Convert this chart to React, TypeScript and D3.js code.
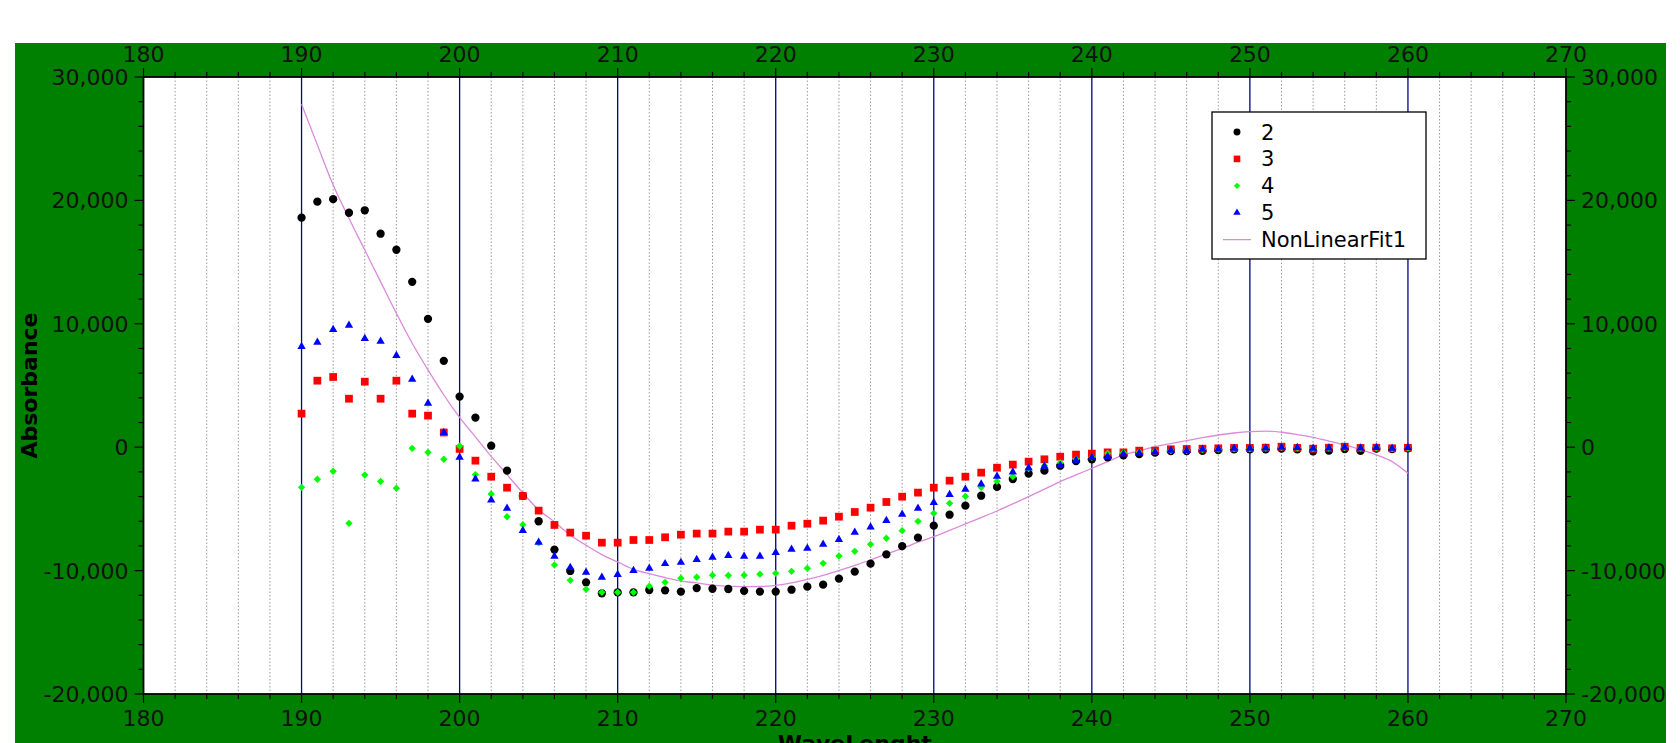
import React from "react";
import * as d3 from "d3";

const wavelengths = [
  190, 191, 192, 193, 194, 195, 196, 197, 198, 199,
  200, 201, 202, 203, 204, 205, 206, 207, 208, 209,
  210, 211, 212, 213, 214, 215, 216, 217, 218, 219,
  220, 221, 222, 223, 224, 225, 226, 227, 228, 229,
  230, 231, 232, 233, 234, 235, 236, 237, 238, 239,
  240, 241, 242, 243, 244, 245, 246, 247, 248, 249,
  250, 251, 252, 253, 254, 255, 256, 257, 258, 259, 260,
];

const series2 = [
  18600, 19900, 20100, 19000, 19200, 17300, 16000, 13400, 10400, 7000,
  4100, 2400, 120, -1900, -3950, -6000, -8300, -10030, -10950, -11840,
  -11770, -11760, -11580, -11600, -11700, -11420, -11470, -11490, -11640, -11700,
  -11700, -11550, -11300, -11140, -10650, -10080, -9440, -8680, -8020, -7330,
  -6360, -5470, -4740, -3930, -3220, -2580, -2140, -1900, -1500, -1120,
  -980, -820, -660, -550, -440, -310, -310, -300, -230, -170,
  -170, -170, -120, -170, -330, -280, -150, -300, -120, -150, -100,
];

const series3 = [
  2720, 5390, 5690, 3930, 5310, 3930, 5390, 2720, 2560, 1190,
  -140, -1090, -2390, -3280, -3950, -5140, -6300, -6920, -7170, -7735,
  -7735, -7520, -7520, -7300, -7090, -7000, -7000, -6840, -6840, -6680,
  -6680, -6360, -6200, -5950, -5630, -5250, -4900, -4440, -4010, -3680,
  -3280, -2710, -2390, -2060, -1660, -1410, -1170, -980, -770, -600,
  -520, -420, -420, -280, -280, -170, -145, -120, -90, -60,
  -60, -40, 40, -60, -120, -40, 40, -60, -40, -90, -50,
];

const series4 = [
  -3250, -2600, -1950, -6170, -2250, -2770, -3330, -90, -415, -980,
  100, -2220, -3790, -5640, -6280, -7750, -9540, -10790, -11520, -11760,
  -11760, -11760, -11260, -10950, -10610, -10530, -10370, -10400, -10370, -10290,
  -10220, -10060, -9815, -9410, -8815, -8440, -7870, -7380, -6763, -6006,
  -5358, -4548, -3980, -3250, -2765, -2390, -1740, -1495, -1250, -980,
  -820, -500, -440, -380, -330, -270, -270, -190, -160, -110,
  -110, -80, -30, -60, -110, -80, -30, -80, -60, -110, -60,
];

const series5 = [
  8150, 8500, 9530, 9880, 8800, 8580, 7420, 5500, 3560, 1190,
  -820, -2590, -4280, -4950, -6760, -7710, -8840, -9760, -10140, -10545,
  -10330, -10005, -9816, -9440, -9340, -9100, -8923, -8788, -8842, -8842,
  -8545, -8275, -8194, -7870, -7492, -6898, -6466, -5952, -5439, -4953,
  -4494, -3845, -3413, -2981, -2360, -2009, -1684, -1549, -1468, -1063,
  -847, -766, -550, -469, -388, -253, -280, -172, -145, -91,
  -91, -64, -10, -37, -91, -64, -10, -64, -37, -91, -40,
];

const fitValues = [
  27800, 24500, 21250, 18550, 15980, 13420, 10850, 8420, 6260, 4230,
  2420, 830, -740, -2220, -3700, -5070, -6050, -7110, -7950, -8700,
  -9300, -9900, -10250, -10560, -10850, -11000, -11180, -11260, -11300, -11290,
  -11200, -11000, -10710, -10380, -10000, -9580, -9140, -8650, -8200, -7700,
  -7250, -6740, -6220, -5700, -5170, -4600, -4010, -3400, -2790, -2250,
  -1710, -1170, -630, -290, 40, 290, 530, 770, 990, 1150,
  1260, 1310, 1210, 1020, 800, 500, 180, -200, -630, -1170, -2115,
];

const xTickLabels = [180, 190, 200, 210, 220, 230, 240, 250, 260, 270];
const yTickValues = [-20000, -10000, 0, 10000, 20000, 30000];
const legendLabels = ["2", "3", "4", "5", "NonLinearFit1"];

const FONT = "'DejaVu Sans', sans-serif";
const TEXT = "#111";

export default function App() {
  const W = 1680;
  const H = 743;
  const left = 143.5;
  const right = 1566;
  const top = 77;
  const bottom = 694;

  const x = d3.scaleLinear().domain([180, 270]).range([left, right]);
  const y = d3.scaleLinear().domain([-20000, 30000]).range([bottom, top]);

  const fmt = d3
    .formatLocale({ decimal: ".", thousands: ",", grouping: [3], currency: ["$", ""], minus: "-" })
    .format(",");

  const xMinor = d3.range(180, 271, 2).filter((v) => v % 10 !== 0);
  const yMinor = d3.range(-20000, 30001, 2000).filter((v) => v % 10000 !== 0);
  const majorGrid = xTickLabels.filter((v) => v > 180 && v < 270);

  const circle = d3.symbol().type(d3.symbolCircle).size(54)()!;
  const square = d3.symbol().type(d3.symbolSquare).size(60)()!;
  const diamond = d3.symbol().type(d3.symbolSquare).size(27)()!;
  const triangle = d3.symbol().type(d3.symbolTriangle).size(30)()!;

  const scatter = [
    { data: series2, path: circle, color: "#000000", rot: 0 },
    { data: series3, path: square, color: "#ff0000", rot: 0 },
    { data: series4, path: diamond, color: "#00ff00", rot: 45 },
    { data: series5, path: triangle, color: "#0000ff", rot: 0 },
  ];

  const fitLine = d3
    .line<number>()
    .x((_, i) => x(wavelengths[i]))
    .y((d) => y(d))
    .curve(d3.curveMonotoneX)(fitValues)!;

  const fitColor = "#da8ada";

  const legX = 1212;
  const legY = 112;
  const legW = 214;
  const legH = 147;
  const rowY = (i: number) => legY + 20 + i * 26.9;

  return (
    <svg
      width={W}
      height={H}
      style={{ position: "absolute", left: 0, top: 0, background: "#fff" }}
      fontFamily={FONT}
    >
      <rect x={15} y={43} width={1651} height={H - 43 + 10} fill="#008000" />
      <rect x={left} y={top} width={right - left} height={bottom - top} fill="#fff" />

      {/* grid */}
      {xMinor.map((v) => (
        <line key={"gm" + v} x1={x(v)} x2={x(v)} y1={top} y2={bottom} stroke="#9a9a9a" strokeWidth={1} strokeDasharray="1.5,2" />
      ))}
      {majorGrid.map((v) => (
        <line key={"gM" + v} x1={x(v)} x2={x(v)} y1={top} y2={bottom} stroke="#00008b" strokeWidth={1.3} />
      ))}

      {/* fit line */}
      <path d={fitLine} fill="none" stroke={fitColor} strokeWidth={1.3} />

      {/* scatter series */}
      {scatter.map((s, si) => (
        <g key={"s" + si} fill={s.color}>
          {s.data.map((v, i) => (
            <path
              key={i}
              d={s.path}
              transform={`translate(${x(wavelengths[i])},${y(v)})${s.rot ? ` rotate(${s.rot})` : ""}`}
            />
          ))}
        </g>
      ))}

      {/* frame */}
      <rect x={left} y={top} width={right - left} height={bottom - top} fill="none" stroke="#000" strokeWidth={1.8} />

      {/* x ticks */}
      {xMinor.map((v) => (
        <g key={"xm" + v} stroke="#000" strokeWidth={1.2}>
          <line x1={x(v)} x2={x(v)} y1={bottom} y2={bottom + 5} />
          <line x1={x(v)} x2={x(v)} y1={top} y2={top - 5} />
        </g>
      ))}
      {xTickLabels.map((v) => (
        <g key={"xM" + v}>
          <line x1={x(v)} x2={x(v)} y1={bottom} y2={bottom + 9} stroke="#000" strokeWidth={1.2} />
          <line x1={x(v)} x2={x(v)} y1={top} y2={top - 9} stroke="#000" strokeWidth={1.2} />
          <text x={x(v)} y={726} textAnchor="middle" fontSize={22} fill={TEXT}>{v}</text>
          <text x={x(v)} y={62} textAnchor="middle" fontSize={22} fill={TEXT}>{v}</text>
        </g>
      ))}

      {/* y ticks */}
      {yMinor.map((v) => (
        <g key={"ym" + v} stroke="#000" strokeWidth={1.2}>
          <line x1={left} x2={left - 5} y1={y(v)} y2={y(v)} />
          <line x1={right} x2={right + 5} y1={y(v)} y2={y(v)} />
        </g>
      ))}
      {yTickValues.map((v) => (
        <g key={"yM" + v}>
          <line x1={left} x2={left - 9} y1={y(v)} y2={y(v)} stroke="#000" strokeWidth={1.2} />
          <line x1={right} x2={right + 9} y1={y(v)} y2={y(v)} stroke="#000" strokeWidth={1.2} />
          <text x={left - 15} y={y(v)} dy="0.36em" textAnchor="end" fontSize={22} fill={TEXT}>{fmt(v)}</text>
          <text x={right + 15} y={y(v)} dy="0.36em" textAnchor="start" fontSize={22} fill={TEXT}>{fmt(v)}</text>
        </g>
      ))}

      {/* axis titles */}
      <text
        transform={`translate(29,${(top + bottom) / 2}) rotate(-90)`}
        textAnchor="middle"
        dominantBaseline="central"
        fontSize={22}
        fontWeight="bold"
        fill="#000"
      >
        Absorbance
      </text>
      <text x={(left + right) / 2} y={751} textAnchor="middle" fontSize={22} fontWeight="bold" fill="#000">
        WaveLenght
      </text>

      {/* legend */}
      <rect x={legX} y={legY} width={legW} height={legH} fill="#fff" stroke="#000" strokeWidth={1.3} />
      {legendLabels.map((lab, i) => {
        const cy = rowY(i);
        const sx = 1237;
        let mark: React.ReactNode;
        if (i < 4) {
          const s = scatter[i];
          const p =
            i === 0
              ? d3.symbol().type(d3.symbolCircle).size(38)()!
              : i === 1
              ? d3.symbol().type(d3.symbolSquare).size(44)()!
              : i === 2
              ? d3.symbol().type(d3.symbolSquare).size(20)()!
              : d3.symbol().type(d3.symbolTriangle).size(24)()!;
          mark = (
            <path d={p} fill={s.color} transform={`translate(${sx},${cy})${s.rot ? ` rotate(${s.rot})` : ""}`} />
          );
        } else {
          mark = <line x1={1223} x2={1251} y1={cy} y2={cy} stroke={fitColor} strokeWidth={1.3} />;
        }
        return (
          <g key={"lg" + i}>
            {mark}
            <text x={1261} y={cy} dy="0.36em" fontSize={21} fill="#000">{lab}</text>
          </g>
        );
      })}
    </svg>
  );
}
